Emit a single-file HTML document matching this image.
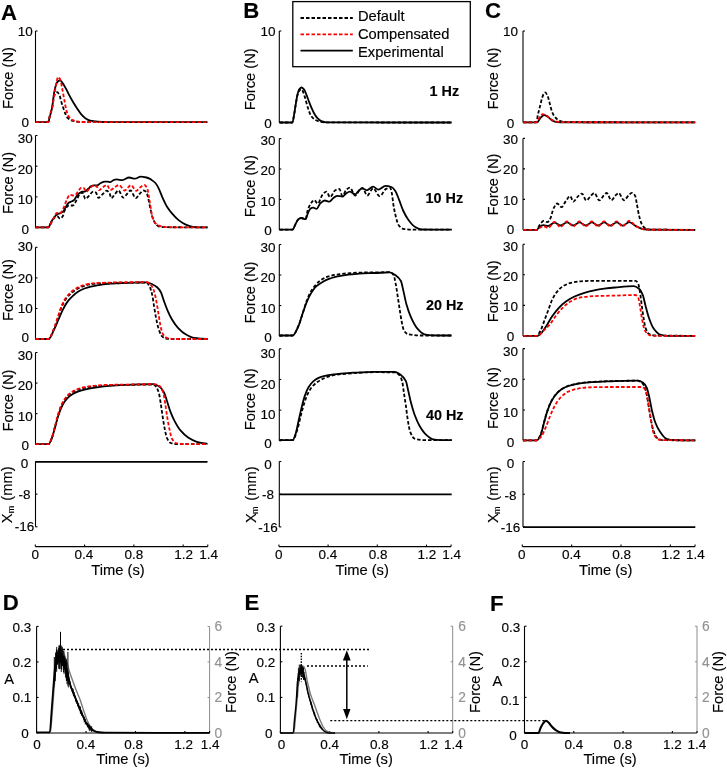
<!DOCTYPE html>
<html><head><meta charset="utf-8"><title>Figure</title><style>
html,body{margin:0;padding:0;background:#fff;}
svg{display:block;will-change:transform;}
text{font-family:"Liberation Sans",sans-serif;fill:#000;stroke:#000;stroke-width:0.15px;}
.gt{stroke:#939393;}
.tk{font-size:13.5px;}
.lb{font-size:14.7px;}
.sb{font-size:9px;}
.pl{font-size:22.2px;font-weight:bold;}
.hz{font-size:14.4px;font-weight:bold;}
.gt{fill:#939393;}
.rt{font-size:13.8px;}
.ax{stroke:#000;stroke-width:1.1;fill:none;}
.gax{stroke:#8c8c8c;stroke-width:1;fill:none;}
.s{stroke:#000;stroke-width:1.8;fill:none;}
.d{stroke:#000;stroke-width:1.8;fill:none;stroke-dasharray:3.5 2;}
.r{stroke:#f00;stroke-width:1.8;fill:none;stroke-dasharray:3.5 2;}
.gl{stroke:#7a7a7a;stroke-width:1.4;fill:none;}
.ml{stroke:#000;stroke-width:1.8;fill:none;}
.mlE{stroke:#000;stroke-width:1.5;fill:none;}
.ml2{stroke:#000;stroke-width:2;fill:none;}
.eb{stroke:#000;stroke-width:0.9;fill:none;}
.eb2{stroke:#000;stroke-width:1;fill:none;}
.eb3{stroke:#000;stroke-width:1.3;fill:none;stroke-dasharray:1.6 1.2;}
.dot{stroke:#000;stroke-width:1.3;fill:none;stroke-dasharray:2 2;}
.arr{stroke:#000;stroke-width:1.5;fill:none;}
</style></head>
<body><svg width="727" height="768" viewBox="0 0 727 768">
<path class="ax" d="M35.5 31L35.5 122.3"/>
<path class="ax" d="M35.5 31L37.5 31"/>
<path class="ax" d="M35.5 122.3L37.5 122.3"/>
<text x="25.2" y="36.45" class="tk" text-anchor="middle">10</text>
<text x="25.2" y="127.05" class="tk" text-anchor="middle">0</text>
<text transform="translate(12.7 78) rotate(-90)" class="lb" text-anchor="middle">Force (N)</text>
<path class="ax" d="M35.5 135.5L35.5 227.6"/>
<path class="ax" d="M35.5 135.5L37.5 135.5"/>
<path class="ax" d="M35.5 166.2L37.5 166.2"/>
<path class="ax" d="M35.5 196.9L37.5 196.9"/>
<path class="ax" d="M35.5 227.6L37.5 227.6"/>
<text x="25.2" y="143.05" class="tk" text-anchor="middle">30</text>
<text x="25.2" y="173.85" class="tk" text-anchor="middle">20</text>
<text x="25.2" y="204.05" class="tk" text-anchor="middle">10</text>
<text x="25.2" y="234.15" class="tk" text-anchor="middle">0</text>
<text transform="translate(12.7 182.9) rotate(-90)" class="lb" text-anchor="middle">Force (N)</text>
<path class="ax" d="M35.5 247.3L35.5 339.1"/>
<path class="ax" d="M35.5 247.3L37.5 247.3"/>
<path class="ax" d="M35.5 277.9L37.5 277.9"/>
<path class="ax" d="M35.5 308.5L37.5 308.5"/>
<path class="ax" d="M35.5 339.1L37.5 339.1"/>
<text x="25.2" y="251.45" class="tk" text-anchor="middle">30</text>
<text x="25.2" y="282.75" class="tk" text-anchor="middle">20</text>
<text x="25.2" y="313.15" class="tk" text-anchor="middle">10</text>
<text x="25.2" y="342.35" class="tk" text-anchor="middle">0</text>
<text transform="translate(12.7 290) rotate(-90)" class="lb" text-anchor="middle">Force (N)</text>
<path class="ax" d="M35.5 352.5L35.5 444.2"/>
<path class="ax" d="M35.5 352.5L37.5 352.5"/>
<path class="ax" d="M35.5 383.07L37.5 383.07"/>
<path class="ax" d="M35.5 413.63L37.5 413.63"/>
<path class="ax" d="M35.5 444.2L37.5 444.2"/>
<text x="25.2" y="359.75" class="tk" text-anchor="middle">30</text>
<text x="25.2" y="390.25" class="tk" text-anchor="middle">20</text>
<text x="25.2" y="420.75" class="tk" text-anchor="middle">10</text>
<text x="25.2" y="450.35" class="tk" text-anchor="middle">0</text>
<text transform="translate(12.7 400.5) rotate(-90)" class="lb" text-anchor="middle">Force (N)</text>
<path class="ax" d="M35.5 461.5L35.5 526.8"/>
<path class="ax" d="M35.5 461.5L37.5 461.5"/>
<path class="ax" d="M35.5 494.15L37.5 494.15"/>
<path class="ax" d="M35.5 526.8L37.5 526.8"/>
<text x="24.5" y="468.15" class="tk" text-anchor="middle">0</text>
<text x="24.5" y="498.85" class="tk" text-anchor="middle">-8</text>
<text x="24.5" y="531.35" class="tk" text-anchor="middle">-16</text>
<text transform="translate(11.8 518.3) rotate(-90)" class="lb" text-anchor="middle">X</text>
<text transform="translate(13.5 509.4) rotate(-90)" class="sb" text-anchor="middle">m</text>
<text transform="translate(11.8 483.6) rotate(-90)" class="lb" text-anchor="middle">(mm)</text>
<path class="ax" d="M35.3 546.6L207.78 546.6"/>
<path class="ax" d="M35.3 546.6L35.3 544.6"/>
<path class="ax" d="M84.58 546.6L84.58 544.6"/>
<path class="ax" d="M133.86 546.6L133.86 544.6"/>
<path class="ax" d="M183.14 546.6L183.14 544.6"/>
<path class="ax" d="M207.78 546.6L207.78 544.6"/>
<text x="35.3" y="559.25" class="tk" text-anchor="middle">0</text>
<text x="84" y="559.25" class="tk" text-anchor="middle">0.4</text>
<text x="134" y="559.25" class="tk" text-anchor="middle">0.8</text>
<text x="183.6" y="559.25" class="tk" text-anchor="middle">1.2</text>
<text x="208.6" y="559.25" class="tk" text-anchor="middle">1.4</text>
<text x="118" y="574.7" class="lb" text-anchor="middle">Time (s)</text>
<path class="ax" d="M279.3 31L279.3 122.5"/>
<path class="ax" d="M279.3 31L281.3 31"/>
<path class="ax" d="M279.3 122.5L281.3 122.5"/>
<text x="267.9" y="36.45" class="tk" text-anchor="middle">10</text>
<text x="267.9" y="128.05" class="tk" text-anchor="middle">0</text>
<text transform="translate(255.4 79.3) rotate(-90)" class="lb" text-anchor="middle">Force (N)</text>
<path class="ax" d="M279.3 138.6L279.3 229.8"/>
<path class="ax" d="M279.3 138.6L281.3 138.6"/>
<path class="ax" d="M279.3 169L281.3 169"/>
<path class="ax" d="M279.3 199.4L281.3 199.4"/>
<path class="ax" d="M279.3 229.8L281.3 229.8"/>
<text x="267.9" y="144.95" class="tk" text-anchor="middle">30</text>
<text x="267.9" y="175.15" class="tk" text-anchor="middle">20</text>
<text x="267.9" y="205.65" class="tk" text-anchor="middle">10</text>
<text x="267.9" y="235.25" class="tk" text-anchor="middle">0</text>
<text transform="translate(255.4 186.2) rotate(-90)" class="lb" text-anchor="middle">Force (N)</text>
<path class="ax" d="M279.3 244.5L279.3 336.1"/>
<path class="ax" d="M279.3 244.5L281.3 244.5"/>
<path class="ax" d="M279.3 275.03L281.3 275.03"/>
<path class="ax" d="M279.3 305.57L281.3 305.57"/>
<path class="ax" d="M279.3 336.1L281.3 336.1"/>
<text x="267.9" y="251.85" class="tk" text-anchor="middle">30</text>
<text x="267.9" y="282.35" class="tk" text-anchor="middle">20</text>
<text x="267.9" y="312.85" class="tk" text-anchor="middle">10</text>
<text x="267.9" y="341.65" class="tk" text-anchor="middle">0</text>
<text transform="translate(255.4 292.5) rotate(-90)" class="lb" text-anchor="middle">Force (N)</text>
<path class="ax" d="M279.3 348.8L279.3 440.8"/>
<path class="ax" d="M279.3 348.8L281.3 348.8"/>
<path class="ax" d="M279.3 379.47L281.3 379.47"/>
<path class="ax" d="M279.3 410.13L281.3 410.13"/>
<path class="ax" d="M279.3 440.8L281.3 440.8"/>
<text x="267.9" y="358.25" class="tk" text-anchor="middle">30</text>
<text x="267.9" y="388.65" class="tk" text-anchor="middle">20</text>
<text x="267.9" y="419.15" class="tk" text-anchor="middle">10</text>
<text x="267.9" y="448.05" class="tk" text-anchor="middle">0</text>
<text transform="translate(255.4 399.3) rotate(-90)" class="lb" text-anchor="middle">Force (N)</text>
<path class="ax" d="M279.3 461.5L279.3 526.9"/>
<path class="ax" d="M279.3 461.5L281.3 461.5"/>
<path class="ax" d="M279.3 494.2L281.3 494.2"/>
<path class="ax" d="M279.3 526.9L281.3 526.9"/>
<text x="267.9" y="468.55" class="tk" text-anchor="middle">0</text>
<text x="267.9" y="499.45" class="tk" text-anchor="middle">-8</text>
<text x="267.9" y="531.55" class="tk" text-anchor="middle">-16</text>
<text transform="translate(256.1 518) rotate(-90)" class="lb" text-anchor="middle">X</text>
<text transform="translate(257.9 510.2) rotate(-90)" class="sb" text-anchor="middle">m</text>
<text transform="translate(256.1 483.6) rotate(-90)" class="lb" text-anchor="middle">(mm)</text>
<path class="ax" d="M278.9 546.6L451.1 546.6"/>
<path class="ax" d="M278.9 546.6L278.9 544.6"/>
<path class="ax" d="M328.1 546.6L328.1 544.6"/>
<path class="ax" d="M377.3 546.6L377.3 544.6"/>
<path class="ax" d="M426.5 546.6L426.5 544.6"/>
<path class="ax" d="M451.1 546.6L451.1 544.6"/>
<text x="278.7" y="559.25" class="tk" text-anchor="middle">0</text>
<text x="327.8" y="559.25" class="tk" text-anchor="middle">0.4</text>
<text x="378.2" y="559.25" class="tk" text-anchor="middle">0.8</text>
<text x="426.9" y="559.25" class="tk" text-anchor="middle">1.2</text>
<text x="451.6" y="559.25" class="tk" text-anchor="middle">1.4</text>
<text x="362.2" y="574.7" class="lb" text-anchor="middle">Time (s)</text>
<path class="ax" d="M523 31L523 122.4"/>
<path class="ax" d="M523 31L525 31"/>
<path class="ax" d="M523 122.4L525 122.4"/>
<text x="510.5" y="36.45" class="tk" text-anchor="middle">10</text>
<text x="510.5" y="127.65" class="tk" text-anchor="middle">0</text>
<text transform="translate(498.4 78.5) rotate(-90)" class="lb" text-anchor="middle">Force (N)</text>
<path class="ax" d="M523 138.4L523 229.8"/>
<path class="ax" d="M523 138.4L525 138.4"/>
<path class="ax" d="M523 168.87L525 168.87"/>
<path class="ax" d="M523 199.33L525 199.33"/>
<path class="ax" d="M523 229.8L525 229.8"/>
<text x="510.5" y="144.15" class="tk" text-anchor="middle">30</text>
<text x="510.5" y="174.35" class="tk" text-anchor="middle">20</text>
<text x="510.5" y="204.75" class="tk" text-anchor="middle">10</text>
<text x="510.5" y="233.65" class="tk" text-anchor="middle">0</text>
<text transform="translate(498.4 184.5) rotate(-90)" class="lb" text-anchor="middle">Force (N)</text>
<path class="ax" d="M523 244.2L523 336"/>
<path class="ax" d="M523 244.2L525 244.2"/>
<path class="ax" d="M523 274.8L525 274.8"/>
<path class="ax" d="M523 305.4L525 305.4"/>
<path class="ax" d="M523 336L525 336"/>
<text x="510.5" y="250.65" class="tk" text-anchor="middle">30</text>
<text x="510.5" y="280.65" class="tk" text-anchor="middle">20</text>
<text x="510.5" y="311.15" class="tk" text-anchor="middle">10</text>
<text x="510.5" y="340.85" class="tk" text-anchor="middle">0</text>
<text transform="translate(498.4 291.3) rotate(-90)" class="lb" text-anchor="middle">Force (N)</text>
<path class="ax" d="M523 348.6L523 440.6"/>
<path class="ax" d="M523 348.6L525 348.6"/>
<path class="ax" d="M523 379.27L525 379.27"/>
<path class="ax" d="M523 409.93L525 409.93"/>
<path class="ax" d="M523 440.6L525 440.6"/>
<text x="510.5" y="356.45" class="tk" text-anchor="middle">30</text>
<text x="510.5" y="386.95" class="tk" text-anchor="middle">20</text>
<text x="510.5" y="417.45" class="tk" text-anchor="middle">10</text>
<text x="510.5" y="446.75" class="tk" text-anchor="middle">0</text>
<text transform="translate(498.4 398) rotate(-90)" class="lb" text-anchor="middle">Force (N)</text>
<path class="ax" d="M523 461.5L523 527.1"/>
<path class="ax" d="M523 461.5L525 461.5"/>
<path class="ax" d="M523 494.3L525 494.3"/>
<path class="ax" d="M523 527.1L525 527.1"/>
<text x="510.5" y="468.35" class="tk" text-anchor="middle">0</text>
<text x="510.5" y="499.65" class="tk" text-anchor="middle">-8</text>
<text x="510.5" y="531.95" class="tk" text-anchor="middle">-16</text>
<text transform="translate(498.4 518) rotate(-90)" class="lb" text-anchor="middle">X</text>
<text transform="translate(500.1 510.2) rotate(-90)" class="sb" text-anchor="middle">m</text>
<text transform="translate(498.4 483.6) rotate(-90)" class="lb" text-anchor="middle">(mm)</text>
<path class="ax" d="M522.3 546.6L695.06 546.6"/>
<path class="ax" d="M522.3 546.6L522.3 544.6"/>
<path class="ax" d="M571.66 546.6L571.66 544.6"/>
<path class="ax" d="M621.02 546.6L621.02 544.6"/>
<path class="ax" d="M670.38 546.6L670.38 544.6"/>
<path class="ax" d="M695.06 546.6L695.06 544.6"/>
<text x="521.7" y="559.25" class="tk" text-anchor="middle">0</text>
<text x="571.3" y="559.25" class="tk" text-anchor="middle">0.4</text>
<text x="621.6" y="559.25" class="tk" text-anchor="middle">0.8</text>
<text x="670.8" y="559.25" class="tk" text-anchor="middle">1.2</text>
<text x="695.4" y="559.25" class="tk" text-anchor="middle">1.4</text>
<text x="605.7" y="574.7" class="lb" text-anchor="middle">Time (s)</text>
<text x="1" y="19.7" class="pl" text-anchor="start">A</text>
<text x="243.2" y="18.1" class="pl" text-anchor="start">B</text>
<text x="485" y="18.4" class="pl" text-anchor="start">C</text>
<text x="2.7" y="609.7" class="pl" text-anchor="start">D</text>
<text x="244.5" y="610.1" class="pl" text-anchor="start">E</text>
<text x="489.9" y="610.6" class="pl" text-anchor="start">F</text>
<text x="429.5" y="96" class="hz" text-anchor="start">1 Hz</text>
<text x="425.6" y="202.7" class="hz" text-anchor="start">10 Hz</text>
<text x="425.9" y="309.5" class="hz" text-anchor="start">20 Hz</text>
<text x="425.9" y="419.7" class="hz" text-anchor="start">40 Hz</text>
<rect x="292.8" y="1.6" width="177.5" height="65.1" fill="#fff" stroke="#000" stroke-width="1.3"/>
<path class="d" d="M300.5 18L352.8 18"/>
<path class="r" d="M300.5 34.3L352.8 34.3"/>
<path class="s" d="M300.5 50.7L352.8 50.7"/>
<text x="358" y="20.7" class="lb" text-anchor="start">Default</text>
<text x="358" y="38.8" class="lb" text-anchor="start">Compensated</text>
<text x="358" y="57" class="lb" text-anchor="start">Experimental</text>
<path class="d" d="M35.3 122.2C39.57 122.2 43.83 122.2 48.1 122.2C48.57 122.2 49.03 118.73 49.5 117C50.43 113.55 51.37 111.11 52.3 106.7C52.83 104.18 53.37 98.63 53.9 96.8C54.43 94.97 54.97 93.42 55.5 93C56.07 92.55 56.63 92.2 57.2 92.2C58.03 92.2 58.87 94.09 59.7 95.9C60.23 97.06 60.77 99.9 61.3 101.7C62 104.06 62.7 106.24 63.4 108.3C64.1 110.36 64.8 112.61 65.5 114.1C66.3 115.8 67.1 117.44 67.9 118.2C69 119.25 70.1 119.88 71.2 120.3C72.6 120.83 74 121.18 75.4 121.4C77.6 121.74 79.8 122.1 82 122.1C123.83 122.19 165.67 122.2 207.5 122.2"/>
<path class="s" d="M35.3 122.2C39.63 122.2 43.97 122.2 48.3 122.2C48.77 122.2 49.23 118.78 49.7 117C50.57 113.69 51.43 111.41 52.3 106.7C52.83 103.8 53.37 97.14 53.9 94C54.43 90.86 54.97 88.26 55.5 86.5C56.07 84.63 56.63 82.82 57.2 82.2C58.17 81.14 59.13 80.3 60.1 80.3C61.07 80.3 62.03 82.28 63 83.6C64.1 85.1 65.2 87.26 66.3 89.3C67.4 91.34 68.5 93.84 69.6 95.9C70.7 97.96 71.8 99.85 72.9 101.7C74.27 104 75.63 106.24 77 108.3C78.37 110.36 79.73 112.52 81.1 114.1C82.5 115.72 83.9 117.25 85.3 118.2C86.93 119.3 88.57 120.34 90.2 120.7C92.67 121.25 95.13 121.51 97.6 121.7C100.07 121.89 102.53 122.09 105 122.1C139.17 122.19 173.33 122.2 207.5 122.2"/>
<path class="r" d="M35.3 122.2C39.57 122.2 43.83 122.2 48.1 122.2C48.57 122.2 49.03 118.73 49.5 117C50.43 113.55 51.37 110.95 52.3 106.7C53.1 103.06 53.9 97.28 54.7 92.6C55.27 89.29 55.83 85.03 56.4 82.7C57 80.23 57.6 77 58.2 77C58.97 77 59.73 78.56 60.5 80.3C61.07 81.59 61.63 85.63 62.2 88.5C62.87 91.88 63.53 95.7 64.2 99.2C64.9 102.87 65.6 107.53 66.3 110C67.13 112.93 67.97 115.37 68.8 116.6C69.9 118.23 71 119.34 72.1 119.9C73.73 120.73 75.37 121.29 77 121.5C79.67 121.84 82.33 122.09 85 122.1C125.83 122.19 166.67 122.2 207.5 122.2"/>
<path class="d" d="M35.3 227.3C39.63 227.3 43.97 227.3 48.3 227.3C49.43 227.3 50.57 223.15 51.7 221.5C52.83 219.85 53.97 217.72 55.1 217.2C55.9 216.83 56.7 216.5 57.5 216.5C58.3 216.5 59.1 218.6 59.9 218.6C60.87 218.6 61.83 217.59 62.8 216.2C63.27 215.53 63.73 212.49 64.2 211.4C64.97 209.61 65.73 208.38 66.5 207.5C67.27 206.62 68.03 205.5 68.8 205.5C70.17 205.5 71.53 205.5 72.9 205.5C74.17 205.5 75.43 201.97 76.7 199.8C77.67 198.15 78.63 194.89 79.6 194.1C80.57 193.31 81.53 192.6 82.5 192.6C83.47 192.6 84.43 198.9 85.4 198.9C86.53 198.9 87.67 197.04 88.8 196C90.23 194.68 91.67 191.7 93.1 191.7C94.07 191.7 95.03 192.06 96 192.6C96.8 193.05 97.6 197.9 98.4 197.9C99.83 197.9 101.27 195.36 102.7 194.1C104 192.96 105.3 190.7 106.6 190.7C107.57 190.7 108.53 191.81 109.5 193.1C110.1 193.9 110.7 198.2 111.3 198.2C112.53 198.2 113.77 195.31 115 194C116.17 192.76 117.33 190.5 118.5 190.5C120.1 190.5 121.7 197.7 123.3 197.7C124.53 197.7 125.77 195.23 127 194C128.17 192.83 129.33 190.5 130.5 190.5C132.27 190.5 134.03 198.2 135.8 198.2C137.03 198.2 138.27 195.22 139.5 194C140.83 192.68 142.17 190.5 143.5 190.5C144.47 190.5 145.43 191.08 146.4 192C147.03 192.6 147.67 196.13 148.3 198.7C148.97 201.41 149.63 205.37 150.3 208.3C151.1 211.82 151.9 215.82 152.7 218C153.63 220.55 154.57 222.56 155.5 223.7C156.5 224.92 157.5 226.04 158.5 226.3C160.67 226.87 162.83 227.19 165 227.2C179.17 227.29 193.33 227.3 207.5 227.3"/>
<path class="s" d="M35.3 227.3C39.63 227.3 43.97 227.3 48.3 227.3C49.43 227.3 50.57 222.78 51.7 221C53 218.95 54.3 216.86 55.6 215.7C56.53 214.87 57.47 214.23 58.4 213.8C59.37 213.36 60.33 213.27 61.3 212.8C62.1 212.41 62.9 211.81 63.7 210.9C64.37 210.15 65.03 208.23 65.7 207.1C66.67 205.46 67.63 203.35 68.6 202.7C69.7 201.96 70.8 201.82 71.9 201.3C72.53 201 73.17 200.78 73.8 200.3C74.77 199.57 75.73 197.15 76.7 196C77.67 194.85 78.63 193.73 79.6 193.1C80.57 192.47 81.53 191.7 82.5 191.7C83.3 191.7 84.1 191.7 84.9 191.7C86.03 191.7 87.17 189.79 88.3 188.8C89.27 187.95 90.23 186.61 91.2 186.2C92.17 185.79 93.13 185.4 94.1 185.4C95.07 185.4 96.03 185.4 97 185.4C98.27 185.4 99.53 183.58 100.8 183C102.1 182.4 103.4 181.6 104.7 181.6C105.63 181.6 106.57 181.65 107.5 181.7C108.47 181.75 109.43 182.1 110.4 182.1C111.6 182.1 112.8 180.09 114 179.8C114.87 179.59 115.73 179.4 116.6 179.4C118.5 179.4 120.4 180.2 122.3 180.2C124.57 180.2 126.83 177.5 129.1 177.5C131 177.5 132.9 178.7 134.8 178.7C136.73 178.7 138.67 176.7 140.6 176.7C142.53 176.7 144.47 177.09 146.4 177.5C147.6 177.75 148.8 178.29 150 178.9C150.73 179.27 151.47 179.86 152.2 180.4C153.27 181.19 154.33 181.84 155.4 183C156.57 184.27 157.73 186.49 158.9 188.8C160.1 191.18 161.3 195.04 162.5 197.7C164 201.03 165.5 204.31 167 206.7C168.8 209.57 170.6 211.73 172.4 213.8C174.47 216.18 176.53 218.49 178.6 220.1C181 221.97 183.4 223.61 185.8 224.6C188.17 225.58 190.53 226.49 192.9 226.8C195.3 227.12 197.7 227.4 200.1 227.4C202.57 227.4 205.03 227.4 207.5 227.4"/>
<path class="r" d="M35.3 227.3C39.63 227.3 43.97 227.3 48.3 227.3C49.43 227.3 50.57 224 51.7 222C52.5 220.59 53.3 218.59 54.1 217.2C55.07 215.52 56.03 212.8 57 212.8C57.97 212.8 58.93 213.3 59.9 213.3C60.53 213.3 61.17 212.23 61.8 211.4C62.6 210.35 63.4 208.42 64.2 206.6C65.17 204.4 66.13 200.68 67.1 198.9C68.07 197.12 69.03 194.8 70 194.8C70.97 194.8 71.93 195.5 72.9 195.5C73.7 195.5 74.5 195.28 75.3 195C76.27 194.66 77.23 192.4 78.2 191.2C79.17 190 80.13 187.8 81.1 187.8C81.9 187.8 82.7 187.8 83.5 187.8C84.47 187.8 85.43 191.7 86.4 191.7C87.5 191.7 88.6 189.23 89.7 188.3C91.17 187.06 92.63 185.2 94.1 185.2C95.07 185.2 96.03 185.95 97 186.8C97.63 187.35 98.27 190.2 98.9 190.2C100.17 190.2 101.43 188.11 102.7 187.3C104.1 186.4 105.5 185 106.9 185C108.03 185 109.17 190 110.3 190C111.7 190 113.1 188.3 114.5 187.5C116 186.64 117.5 185 119 185C120.9 185 122.8 190.5 124.7 190.5C125.8 190.5 126.9 188.41 128 187.5C129 186.67 130 185.2 131 185.2C132.77 185.2 134.53 190.8 136.3 190.8C137.53 190.8 138.77 188.35 140 187.5C141.5 186.47 143 185 144.5 185C145.47 185 146.43 186.85 147.4 189.1C147.87 190.19 148.33 193.25 148.8 195.8C149.3 198.53 149.8 202.41 150.3 205.4C150.93 209.19 151.57 213.85 152.2 216C153.17 219.28 154.13 221.66 155.1 222.8C156.37 224.29 157.63 225.27 158.9 225.7C160.83 226.36 162.77 226.76 164.7 226.9C168.13 227.14 171.57 227.3 175 227.3C185.83 227.3 196.67 227.3 207.5 227.3"/>
<path class="d" d="M35.3 339C39.73 339 44.17 339 48.6 339C50.27 339 51.93 333.52 53.6 329.8C55.03 326.6 56.47 321.89 57.9 317.8C59.13 314.28 60.37 309.82 61.6 307C63.03 303.72 64.47 300.99 65.9 299C67.57 296.68 69.23 294.97 70.9 293.5C72.97 291.68 75.03 290.13 77.1 289C79.57 287.65 82.03 286.56 84.5 285.8C86.57 285.16 88.63 284.65 90.7 284.3C92.77 283.95 94.83 283.63 96.9 283.5C101.03 283.23 105.17 283.12 109.3 283C113.43 282.88 117.57 282.73 121.7 282.7C130 282.64 138.3 282.6 146.6 282.6C147.63 282.6 148.67 284.74 149.7 286.7C150.53 288.28 151.37 291.12 152.2 294.7C152.8 297.28 153.4 302.28 154 305.9C154.63 309.72 155.27 313.78 155.9 317C156.73 321.23 157.57 325.46 158.4 328.1C159.43 331.37 160.47 334.42 161.5 335.6C162.93 337.24 164.37 338.56 165.8 338.7C167.87 338.9 169.93 339 172 339C183.83 339 195.67 339 207.5 339"/>
<path class="s" d="M35.3 339C39.73 339 44.17 339 48.6 339C50.27 339 51.93 333.82 53.6 330.6C55.23 327.45 56.87 323.19 58.5 319.5C59.97 316.19 61.43 312.48 62.9 309.6C64.33 306.78 65.77 304.07 67.2 302.1C68.83 299.86 70.47 298.14 72.1 296.6C74.17 294.65 76.23 292.88 78.3 291.6C80.37 290.32 82.43 289.26 84.5 288.5C86.57 287.74 88.63 287.2 90.7 286.7C92.77 286.2 94.83 285.78 96.9 285.4C98.97 285.02 101.03 284.65 103.1 284.4C105.17 284.15 107.23 283.98 109.3 283.8C111.37 283.62 113.43 283.43 115.5 283.3C117.57 283.18 119.63 283.08 121.7 283C126.13 282.83 130.57 282.72 135 282.6C138.87 282.49 142.73 282.3 146.6 282.3C148.47 282.3 150.33 283.37 152.2 284.2C153.83 284.93 155.47 285.89 157.1 287.3C158.37 288.39 159.63 289.9 160.9 292.2C161.9 294.01 162.9 298.15 163.9 300.9C165.17 304.38 166.43 307.91 167.7 310.8C169.13 314.07 170.57 317.11 172 319.5C174.07 322.94 176.13 325.93 178.2 328.1C180.67 330.7 183.13 332.9 185.6 334.3C188.5 335.95 191.4 337.59 194.3 338C198.43 338.58 202.57 339 206.7 339C206.97 339 207.23 339 207.5 339"/>
<path class="r" d="M35.3 339C39.73 339 44.17 339 48.6 339C50.27 339 51.93 333.26 53.6 329.4C55.03 326.08 56.47 321.22 57.9 317C59.13 313.37 60.37 308.77 61.6 305.9C63.03 302.56 64.47 299.83 65.9 297.8C67.57 295.44 69.23 293.64 70.9 292.2C72.97 290.41 75.03 288.99 77.1 287.9C79.57 286.6 82.03 285.45 84.5 284.8C86.57 284.26 88.63 283.87 90.7 283.6C92.77 283.33 94.83 283.11 96.9 283C101.03 282.79 105.17 282.71 109.3 282.6C113.43 282.49 117.57 282.33 121.7 282.3C130 282.24 138.3 282.2 146.6 282.2C148.03 282.2 149.47 283.43 150.9 284.8C151.93 285.79 152.97 288.11 154 291C154.83 293.33 155.67 297.85 156.5 302.1C157.13 305.33 157.77 309.48 158.4 313.3C159 316.92 159.6 321.58 160.2 324.4C161.03 328.32 161.87 332.32 162.7 333.7C164.13 336.08 165.57 337.68 167 338C169.9 338.66 172.8 339 175.7 339C186.3 339 196.9 339 207.5 339"/>
<path class="d" d="M35.3 444.2C39.73 444.2 44.17 444.2 48.6 444.2C49.63 444.2 50.67 440.84 51.7 438.3C52.73 435.76 53.77 431.24 54.8 427.5C55.83 423.76 56.87 419.25 57.9 415.8C58.93 412.35 59.97 408.87 61 406.5C62.23 403.67 63.47 401.42 64.7 399.7C66.37 397.38 68.03 395.5 69.7 394.2C71.77 392.58 73.83 391.36 75.9 390.5C78.77 389.3 81.63 388.38 84.5 387.8C88.63 386.96 92.77 386.34 96.9 386C101.03 385.66 105.17 385.45 109.3 385.3C114.53 385.11 119.77 384.98 125 384.9C134.47 384.75 143.93 384.6 153.4 384.6C154.43 384.6 155.47 385.94 156.5 387.3C157.33 388.39 158.17 390.54 159 393.5C159.63 395.75 160.27 400.69 160.9 404.7C161.5 408.5 162.1 413.2 162.7 417C163.33 421.01 163.97 425.1 164.6 428.2C165.4 432.11 166.2 436.46 167 438.1C168.27 440.69 169.53 442.5 170.8 443C172.43 443.64 174.07 444.09 175.7 444.1C186.3 444.19 196.9 444.2 207.5 444.2"/>
<path class="s" d="M35.3 444.2C39.73 444.2 44.17 444.2 48.6 444.2C49.63 444.2 50.67 441.11 51.7 438.7C52.73 436.29 53.77 431.81 54.8 428.2C55.83 424.59 56.87 420.24 57.9 417C58.93 413.76 59.97 410.7 61 408.4C62.23 405.66 63.47 403.34 64.7 401.6C66.37 399.25 68.03 397.31 69.7 396C71.77 394.37 73.83 393.16 75.9 392.3C78.77 391.1 81.63 390.28 84.5 389.6C88.63 388.62 92.77 387.91 96.9 387.3C101.03 386.69 105.17 386.13 109.3 385.8C114.53 385.39 119.77 385.12 125 384.9C130 384.69 135 384.5 140 384.4C144.47 384.31 148.93 384.2 153.4 384.2C155.47 384.2 157.53 385.39 159.6 386.7C161.03 387.61 162.47 389.7 163.9 392.3C164.93 394.18 165.97 397.91 167 401C168.03 404.09 169.07 408.14 170.1 410.9C171.57 414.81 173.03 418.03 174.5 420.8C176.57 424.7 178.63 428.27 180.7 430.7C183.17 433.6 185.63 435.9 188.1 437.5C191 439.38 193.9 440.99 196.8 441.8C200.1 442.72 203.4 443.23 206.7 443.7C206.97 443.74 207.23 443.77 207.5 443.8"/>
<path class="r" d="M35.3 444.2C39.73 444.2 44.17 444.2 48.6 444.2C49.63 444.2 50.67 440.72 51.7 438.1C52.73 435.48 53.77 430.81 54.8 427C55.83 423.19 56.87 418.67 57.9 415.2C58.93 411.73 59.97 408.27 61 405.9C62.23 403.07 63.47 400.84 64.7 399.1C66.37 396.75 68.03 394.81 69.7 393.5C71.77 391.87 73.83 390.66 75.9 389.8C78.77 388.6 81.63 387.64 84.5 387.1C88.63 386.32 92.77 385.79 96.9 385.5C101.03 385.21 105.17 385.02 109.3 384.9C114.53 384.75 119.77 384.69 125 384.6C134.47 384.44 143.93 384.2 153.4 384.2C155.47 384.2 157.53 384.94 159.6 386.1C160.83 386.79 162.07 389.31 163.3 392.9C163.93 394.75 164.57 399.51 165.2 403.4C165.8 407.08 166.4 412.13 167 415.8C167.83 420.9 168.67 425.72 169.5 429.4C170.33 433.08 171.17 437.17 172 438.7C173.23 440.96 174.47 442.6 175.7 443C177.77 443.68 179.83 444.08 181.9 444.1C190.43 444.18 198.97 444.2 207.5 444.2"/>
<path class="d" d="M279.5 122.5C283.8 122.5 288.1 122.5 292.4 122.5C292.97 122.5 293.53 117.61 294.1 114.6C294.63 111.77 295.17 107.78 295.7 104.7C296.27 101.43 296.83 97.46 297.4 95.5C298.07 93.2 298.73 91.08 299.4 90.5C300.1 89.89 300.8 89.4 301.5 89.4C302.47 89.4 303.43 92.98 304.4 95.6C305.1 97.5 305.8 100.7 306.5 103.1C307.17 105.39 307.83 107.88 308.5 109.7C309.47 112.33 310.43 115.02 311.4 116.3C312.77 118.11 314.13 119.27 315.5 120C316.9 120.75 318.3 121.32 319.7 121.6C321.8 122.01 323.9 122.4 326 122.4C367.9 122.49 409.8 122.5 451.7 122.5"/>
<path class="s" d="M279.5 122.5C283.8 122.5 288.1 122.5 292.4 122.5C292.97 122.5 293.53 117.61 294.1 114.6C294.63 111.77 295.17 107.9 295.7 104.7C296.27 101.3 296.83 97.01 297.4 94.8C298.07 92.2 298.73 89.77 299.4 89C300.1 88.19 300.8 87.5 301.5 87.5C302.33 87.5 303.17 88.46 304 89.4C304.83 90.34 305.67 92.78 306.5 94.8C307.3 96.74 308.1 99.31 308.9 101.4C309.73 103.57 310.57 105.68 311.4 107.6C312.23 109.52 313.07 111.52 313.9 113C315 114.95 316.1 116.74 317.2 117.9C318.57 119.34 319.93 120.69 321.3 121.2C322.97 121.83 324.63 122.4 326.3 122.4C368.1 122.5 409.9 122.5 451.7 122.5"/>
<path class="d" d="M279.5 229.6C283.87 229.6 288.23 229.6 292.6 229.6C293.57 229.6 294.53 225.83 295.5 224.1C296.47 222.37 297.43 219.83 298.4 219.2C299.4 218.55 300.4 218 301.4 218C302.77 218 304.13 219.2 305.5 219.2C306.27 219.2 307.03 212.21 307.8 210C308.57 207.79 309.33 206 310.1 204.8C311.47 202.66 312.83 200.1 314.2 200.1C315.37 200.1 316.53 203.6 317.7 203.6C319.27 203.6 320.83 196.64 322.4 194.9C323.77 193.38 325.13 191.6 326.5 191.6C327.67 191.6 328.83 197.2 330 197.2C331.77 197.2 333.53 191.02 335.3 190.2C336.67 189.56 338.03 189 339.4 189C340.37 189 341.33 195.8 342.3 195.8C343.7 195.8 345.1 190.62 346.5 189.5C347.63 188.59 348.77 187.6 349.9 187.6C351.67 187.6 353.43 195.5 355.2 195.5C356.8 195.5 358.4 190.75 360 189.5C360.83 188.85 361.67 188 362.5 188C364.07 188 365.63 195.5 367.2 195.5C369.17 195.5 371.13 188.3 373.1 188.3C375.27 188.3 377.43 196.1 379.6 196.1C381.77 196.1 383.93 189.94 386.1 188.9C387.43 188.26 388.77 187.6 390.1 187.6C390.73 187.6 391.37 191.12 392 194.2C392.43 196.31 392.87 201.3 393.3 204C393.97 208.16 394.63 211.67 395.3 214.4C396.37 218.77 397.43 223.41 398.5 224.9C400.03 227.04 401.57 228.51 403.1 228.8C406.17 229.39 409.23 229.7 412.3 229.7C425.43 229.7 438.57 229.7 451.7 229.7"/>
<path class="s" d="M279.5 229.6C283.87 229.6 288.23 229.6 292.6 229.6C293.57 229.6 294.53 225.83 295.5 224.1C296.47 222.37 297.43 219.83 298.4 219.2C299.4 218.55 300.4 218 301.4 218C302.77 218 304.13 219.2 305.5 219.2C306.27 219.2 307.03 215.3 307.8 213.6C308.57 211.9 309.33 209.43 310.1 208.9C311.1 208.21 312.1 207.7 313.1 207.7C314.27 207.7 315.43 208.9 316.6 208.9C317.77 208.9 318.93 204.69 320.1 203.6C321.67 202.13 323.23 200.5 324.8 200.5C326.33 200.5 327.87 201.7 329.4 201.7C330.6 201.7 331.8 199.32 333 198.4C334.33 197.38 335.67 195.8 337 195.8C338.77 195.8 340.53 196.6 342.3 196.6C343.47 196.6 344.63 194.44 345.8 193.7C347.17 192.83 348.53 191.6 349.9 191.6C351.67 191.6 353.43 194.3 355.2 194.3C356.37 194.3 357.53 191.75 358.7 190.8C359.87 189.85 361.03 188.4 362.2 188.4C363.67 188.4 365.13 190.3 366.6 190.3C368.77 190.3 370.93 186.7 373.1 186.7C374.83 186.7 376.57 189.6 378.3 189.6C380.7 189.6 383.1 185.9 385.5 185.9C387.47 185.9 389.43 186.35 391.4 187C392.7 187.43 394 189.07 395.3 190.9C396.6 192.73 397.9 196.85 399.2 200.1C400.5 203.35 401.8 207.71 403.1 210.5C404.83 214.22 406.57 217.36 408.3 219.7C410.5 222.67 412.7 225.48 414.9 226.8C417.07 228.1 419.23 229.46 421.4 229.5C431.5 229.67 441.6 229.7 451.7 229.7"/>
<path class="d" d="M279.5 335.5C283.9 335.5 288.3 335.5 292.7 335.5C294.67 335.5 296.63 329.93 298.6 325.6C299.83 322.89 301.07 318.25 302.3 314.5C303.6 310.55 304.9 306.1 306.2 302.5C307.4 299.17 308.6 295.7 309.8 293.4C311.43 290.27 313.07 287.97 314.7 286C316.37 283.99 318.03 282.26 319.7 281C321.77 279.44 323.83 278.1 325.9 277.3C328.77 276.19 331.63 275.4 334.5 274.9C338.63 274.19 342.77 273.75 346.9 273.4C351.03 273.05 355.17 272.69 359.3 272.6C364.53 272.49 369.77 272.47 375 272.4C379.93 272.34 384.87 272.2 389.8 272.2C391.03 272.2 392.27 273.29 393.5 274.9C394.3 275.94 395.1 280.73 395.9 284.8C396.53 288.02 397.17 292.98 397.8 297.1C398.43 301.22 399.07 305.47 399.7 309.5C400.3 313.32 400.9 317.76 401.5 320.7C402.33 324.78 403.17 329.35 404 330.6C405.43 332.75 406.87 334.01 408.3 334.3C412.43 335.13 416.57 335.5 420.7 335.5C431.03 335.5 441.37 335.5 451.7 335.5"/>
<path class="s" d="M279.5 335.5C283.9 335.5 288.3 335.5 292.7 335.5C294.67 335.5 296.63 329.93 298.6 325.6C299.83 322.89 301.07 318.09 302.3 314.5C303.77 310.23 305.23 305.55 306.7 302.1C308.13 298.73 309.57 295.77 311 293.4C312.63 290.7 314.27 288.13 315.9 286.6C317.97 284.66 320.03 283.5 322.1 282.3C324.17 281.1 326.23 280.03 328.3 279.2C330.37 278.37 332.43 277.64 334.5 277.1C336.57 276.56 338.63 276.15 340.7 275.8C342.77 275.45 344.83 275.16 346.9 274.9C351.03 274.39 355.17 273.84 359.3 273.6C364.53 273.3 369.77 273.21 375 273C379.93 272.81 384.87 272.4 389.8 272.4C391.83 272.4 393.87 274.07 395.9 275.5C397.57 276.67 399.23 277.94 400.9 281C401.73 282.53 402.57 287.43 403.4 290.9C404.43 295.21 405.47 300.97 406.5 304.6C407.93 309.64 409.37 313.68 410.8 316.9C412.87 321.54 414.93 325.71 417 328.1C419.47 330.95 421.93 333.69 424.4 334.3C426.93 334.93 429.47 335.37 432 335.4C438.57 335.47 445.13 335.5 451.7 335.5"/>
<path class="d" d="M279.5 440.2C283.9 440.2 288.3 440.2 292.7 440.2C294.27 440.2 295.83 434.03 297.4 429.4C298.63 425.75 299.87 419.17 301.1 414.5C302.13 410.59 303.17 406.58 304.2 403.4C305.43 399.61 306.67 395.97 307.9 393.5C309.33 390.63 310.77 388.36 312.2 386.7C314.07 384.54 315.93 382.97 317.8 381.7C320.07 380.16 322.33 378.95 324.6 378C327.07 376.97 329.53 375.98 332 375.5C336.33 374.65 340.67 374.15 345 373.8C355 373 365 372.2 375 372.2C381.57 372.2 388.13 372.24 394.7 372.4C396.37 372.44 398.03 373.75 399.7 375.5C400.5 376.34 401.3 378.3 402.1 381.1C402.73 383.32 403.37 389.37 404 393.5C404.63 397.63 405.27 401.46 405.9 405.9C406.5 410.1 407.1 415.88 407.7 419.5C408.53 424.52 409.37 429.69 410.2 431.8C411.63 435.43 413.07 438.24 414.5 438.7C417.4 439.63 420.3 440.08 423.2 440.1C432.7 440.18 442.2 440.2 451.7 440.2"/>
<path class="s" d="M279.5 440.2C283.9 440.2 288.3 440.2 292.7 440.2C293.63 440.2 294.57 436.94 295.5 434.3C296.53 431.38 297.57 425.23 298.6 420.7C299.63 416.17 300.67 411.19 301.7 407.1C302.73 403.01 303.77 398.84 304.8 395.9C306.03 392.39 307.27 389.33 308.5 387.3C310.17 384.56 311.83 382.46 313.5 381.1C315.57 379.41 317.63 378.16 319.7 377.4C322.57 376.35 325.43 375.68 328.3 375.2C332.43 374.51 336.57 374.1 340.7 373.7C344.83 373.3 348.97 372.93 353.1 372.7C360.4 372.29 367.7 371.8 375 371.8C381.57 371.8 388.13 371.82 394.7 371.9C396.77 371.93 398.83 373.44 400.9 374.9C402.57 376.08 404.23 377.71 405.9 381.1C406.7 382.73 407.5 387.58 408.3 391C409.13 394.56 409.97 398.89 410.8 402.1C412.03 406.85 413.27 411.16 414.5 414.5C416.17 419.02 417.83 422.82 419.5 425.7C421.57 429.27 423.63 432.4 425.7 434.3C428.17 436.56 430.63 438.82 433.1 439.3C435.4 439.75 437.7 440.06 440 440.1C443.9 440.17 447.8 440.2 451.7 440.2"/>
<path class="d" d="M523.1 122.3C527.5 122.3 531.9 122.29 536.3 122.2C536.83 122.19 537.37 117 537.9 114.7C538.6 111.69 539.3 109.22 540 106.4C540.67 103.72 541.33 100.24 542 98.2C542.57 96.46 543.13 94.8 543.7 94C544.23 93.24 544.77 92.4 545.3 92.4C546.13 92.4 546.97 94.61 547.8 96.5C548.5 98.08 549.2 101.36 549.9 103.9C550.57 106.32 551.23 109.66 551.9 111.4C552.73 113.57 553.57 115.18 554.4 116.3C555.5 117.78 556.6 118.93 557.7 119.6C559.37 120.61 561.03 121.49 562.7 121.7C565.13 122 567.57 122.19 570 122.2C611.77 122.29 653.53 122.3 695.3 122.3"/>
<path class="s" d="M523.1 122.3C527.77 122.3 532.43 122.3 537.1 122.3C538.2 122.3 539.3 119.08 540.4 118C541.63 116.79 542.87 115.1 544.1 115.1C545.33 115.1 546.57 115.98 547.8 116.7C549.17 117.49 550.53 119.71 551.9 120.4C553.57 121.24 555.23 122.02 556.9 122.1C559.6 122.23 562.3 122.3 565 122.3C608.43 122.3 651.87 122.3 695.3 122.3"/>
<path class="r" d="M523.1 122.3C527.5 122.3 531.9 122.3 536.3 122.3C537.4 122.3 538.5 118.34 539.6 117.1C540.7 115.86 541.8 114.2 542.9 114.2C544 114.2 545.1 114.93 546.2 115.5C547.3 116.07 548.4 117.18 549.5 118C550.6 118.82 551.7 119.91 552.8 120.4C554.17 121.01 555.53 121.55 556.9 121.7C559.6 122 562.3 122.19 565 122.2C608.43 122.29 651.87 122.3 695.3 122.3"/>
<path class="d" d="M523.1 229.8C527.67 229.8 532.23 229.8 536.8 229.8C537.83 229.8 538.87 225.9 539.9 224.6C541.13 223.04 542.37 220.9 543.6 220.9C544.83 220.9 546.07 222.1 547.3 222.1C548.33 222.1 549.37 220.2 550.4 218.4C551.43 216.6 552.47 210.49 553.5 208.5C554.73 206.13 555.97 203.5 557.2 203.5C558.63 203.5 560.07 207.2 561.5 207.2C562.97 207.2 564.43 202.85 565.9 201C567.33 199.19 568.77 196.1 570.2 196.1C571.23 196.1 572.27 201.7 573.3 201.7C574.93 201.7 576.57 197.47 578.2 196.1C579.43 195.06 580.67 193.6 581.9 193.6C583.37 193.6 584.83 200.4 586.3 200.4C587.73 200.4 589.17 197.4 590.6 196.1C591.83 194.98 593.07 193 594.3 193C595.97 193 597.63 200.4 599.3 200.4C600.93 200.4 602.57 196.35 604.2 194.9C605.03 194.16 605.87 193 606.7 193C608.23 193 609.77 200.3 611.3 200.3C612.7 200.3 614.1 196.76 615.5 195.5C616.57 194.54 617.63 193.1 618.7 193.1C620.47 193.1 622.23 200.3 624 200.3C625.5 200.3 627 196.88 628.5 195.5C629.6 194.49 630.7 192.8 631.8 192.8C632.9 192.8 634 193.96 635.1 195.7C635.73 196.7 636.37 201.63 637 204.8C637.67 208.14 638.33 212.59 639 215.3C639.87 218.83 640.73 222.27 641.6 223.8C642.9 226.09 644.2 227.72 645.5 228.3C647.23 229.08 648.97 229.69 650.7 229.7C665.57 229.79 680.43 229.8 695.3 229.8"/>
<path class="s" d="M523.1 229.8C527.67 229.8 532.23 229.8 536.8 229.8C537.83 229.8 538.87 227.05 539.9 226.5C541.13 225.84 542.37 225.2 543.6 225.2C545.03 225.2 546.47 226 547.9 226C550.17 226 552.43 222.6 554.7 222.6C556.57 222.6 558.43 225.5 560.3 225.5C562.57 225.5 564.83 222.4 567.1 222.4C569.17 222.4 571.23 225.5 573.3 225.5C575.37 225.5 577.43 222.4 579.5 222.4C581.57 222.4 583.63 225.5 585.7 225.5C587.77 225.5 589.83 222.4 591.9 222.4C593.93 222.4 595.97 225.5 598 225.5C600.07 225.5 602.13 222.4 604.2 222.4C606.2 222.4 608.2 225.6 610.2 225.6C612.4 225.6 614.6 222.4 616.8 222.4C618.73 222.4 620.67 225.6 622.6 225.6C624.8 225.6 627 222.2 629.2 222.2C631.6 222.2 634 225.26 636.4 226.4C638.57 227.42 640.73 228.63 642.9 229C645.07 229.37 647.23 229.69 649.4 229.7C664.7 229.79 680 229.8 695.3 229.8"/>
<path class="r" d="M523.1 229.8C527.67 229.8 532.23 229.8 536.8 229.8C537.87 229.8 538.93 228.36 540 227.8C541.2 227.17 542.4 226.2 543.6 226.2C545.03 226.2 546.47 228 547.9 228C550.17 228 552.43 222 554.7 222C556.57 222 558.43 227 560.3 227C562.57 227 564.83 221.5 567.1 221.5C569.17 221.5 571.23 226.5 573.3 226.5C575.37 226.5 577.43 221.3 579.5 221.3C581.57 221.3 583.63 226.5 585.7 226.5C587.77 226.5 589.83 221.3 591.9 221.3C593.93 221.3 595.97 226.5 598 226.5C600.07 226.5 602.13 221.3 604.2 221.3C606.2 221.3 608.2 226.5 610.2 226.5C612.4 226.5 614.6 221.3 616.8 221.3C618.73 221.3 620.67 226.5 622.6 226.5C624.8 226.5 627 221 629.2 221C631.6 221 634 225.15 636.4 226.4C638.57 227.52 640.73 228.63 642.9 229C645.07 229.37 647.23 229.69 649.4 229.7C664.7 229.79 680 229.8 695.3 229.8"/>
<path class="d" d="M523.1 335.8C527.67 335.8 532.23 335.8 536.8 335.8C538.23 335.8 539.67 332.09 541.1 329.3C542.33 326.9 543.57 322.7 544.8 319.4C546.03 316.1 547.27 312.8 548.5 309.5C549.73 306.2 550.97 302.1 552.2 299.6C553.87 296.22 555.53 293.54 557.2 291.6C559.27 289.19 561.33 287.2 563.4 286C565.87 284.57 568.33 283.49 570.8 282.9C574.1 282.11 577.4 281.52 580.7 281.3C584.83 281.03 588.97 280.8 593.1 280.8C600.4 280.8 607.7 280.8 615 280.8C621.9 280.8 628.8 280.81 635.7 280.9C636.57 280.91 637.43 282.41 638.3 284.2C638.97 285.58 639.63 289.94 640.3 294C640.8 297.04 641.3 302.02 641.8 305.7C642.37 309.87 642.93 314.12 643.5 317.5C644.17 321.48 644.83 326.05 645.5 327.9C646.6 330.95 647.7 333.21 648.8 333.8C650.77 334.85 652.73 335.46 654.7 335.5C668.23 335.76 681.77 335.8 695.3 335.8"/>
<path class="s" d="M523.1 335.8C527.87 335.8 532.63 335.8 537.4 335.8C539.03 335.8 540.67 333.52 542.3 331.8C543.97 330.05 545.63 327 547.3 324.4C548.93 321.85 550.57 318.68 552.2 316.3C554.27 313.29 556.33 310.51 558.4 308.3C560.9 305.62 563.4 303.28 565.9 301.5C568.77 299.46 571.63 297.81 574.5 296.5C577.8 294.99 581.1 293.79 584.4 292.8C587.7 291.81 591 290.95 594.3 290.3C597.6 289.65 600.9 289.14 604.2 288.7C607.8 288.22 611.4 287.83 615 287.5C621.23 286.93 627.47 286.1 633.7 286.1C635.47 286.1 637.23 287.32 639 288.7C640.3 289.72 641.6 292.12 642.9 295.3C643.77 297.42 644.63 302.42 645.5 305.7C646.6 309.86 647.7 314.38 648.8 317.5C650.3 321.76 651.8 325.75 653.3 327.9C655.5 331.05 657.7 333.86 659.9 334.5C662.5 335.26 665.1 335.8 667.7 335.8C676.9 335.8 686.1 335.8 695.3 335.8"/>
<path class="r" d="M523.1 335.8C527.87 335.8 532.63 335.8 537.4 335.8C539.47 335.8 541.53 332.49 543.6 330.6C545.67 328.71 547.73 326.83 549.8 324.4C551.83 322.01 553.87 318.34 555.9 315.7C557.97 313.01 560.03 310.33 562.1 308.3C564.6 305.84 567.1 303.66 569.6 302.1C572.07 300.56 574.53 299.11 577 298.4C579.47 297.69 581.93 297.19 584.4 296.9C587.7 296.51 591 296.23 594.3 296.1C601.2 295.83 608.1 295.78 615 295.6C621.7 295.42 628.4 295 635.1 295C636.17 295 637.23 296.16 638.3 297.9C638.97 298.99 639.63 304.52 640.3 308.3C640.93 311.89 641.57 317.03 642.2 320.1C643.1 324.46 644 329.09 644.9 330.6C646.4 333.11 647.9 334.84 649.4 335.1C652.03 335.56 654.67 335.8 657.3 335.8C669.97 335.8 682.63 335.8 695.3 335.8"/>
<path class="d" d="M523.1 440.3C527.67 440.3 532.23 440.3 536.8 440.3C538.03 440.3 539.27 437.56 540.5 435C541.53 432.85 542.57 427.5 543.6 423.8C544.63 420.1 545.67 415.95 546.7 412.8C547.93 409.04 549.17 405.57 550.4 403C551.83 400.02 553.27 397.51 554.7 395.7C556.77 393.08 558.83 391.01 560.9 389.6C563.37 387.92 565.83 386.64 568.3 385.8C571.2 384.81 574.1 384.08 577 383.6C581.13 382.91 585.27 382.38 589.4 382.1C597.93 381.53 606.47 381.17 615 381C622.57 380.85 630.13 380.7 637.7 380.7C638.8 380.7 639.9 381.34 641 382C642.07 382.64 643.13 383.93 644.2 385.9C645.07 387.5 645.93 391.24 646.8 395.1C647.47 398.07 648.13 402.78 648.8 406.8C649.43 410.62 650.07 415.27 650.7 418.6C651.57 423.16 652.43 427.85 653.3 430.3C654.63 434.06 655.97 437.35 657.3 438.2C659.03 439.3 660.77 440.07 662.5 440.1C673.43 440.27 684.37 440.3 695.3 440.3"/>
<path class="s" d="M523.1 440.3C527.67 440.3 532.23 440.3 536.8 440.3C538.03 440.3 539.27 437.95 540.5 435.6C541.53 433.63 542.57 428.12 543.6 424.4C544.63 420.68 545.67 416.48 546.7 413.3C547.93 409.51 549.17 406 550.4 403.4C551.83 400.38 553.27 397.84 554.7 396C556.77 393.34 558.83 391.22 560.9 389.8C563.37 388.11 565.83 386.84 568.3 386C571.2 385.01 574.1 384.28 577 383.8C581.13 383.11 585.27 382.6 589.4 382.3C594.6 381.92 599.8 381.73 605 381.5C608.33 381.35 611.67 381.19 615 381.1C622.57 380.91 630.13 380.7 637.7 380.7C639.43 380.7 641.17 381.57 642.9 382.6C644.2 383.37 645.5 385.22 646.8 387.9C647.67 389.69 648.53 393.97 649.4 397.7C650.27 401.43 651.13 407.06 652 410.7C653.1 415.32 654.2 419.65 655.3 422.5C656.83 426.47 658.37 429.39 659.9 431.6C662.07 434.73 664.23 438.16 666.4 438.8C669.03 439.57 671.67 440.05 674.3 440.1C681.3 440.25 688.3 440.3 695.3 440.3"/>
<path class="r" d="M523.1 440.3C527.67 440.3 532.23 440.3 536.8 440.3C538.23 440.3 539.67 438.46 541.1 436.8C542.53 435.14 543.97 431.32 545.4 428.1C546.87 424.81 548.33 420.5 549.8 417C551.43 413.1 553.07 408.76 554.7 405.9C556.77 402.29 558.83 399.25 560.9 397.2C563.37 394.75 565.83 392.73 568.3 391.6C571.2 390.28 574.1 389.32 577 388.8C581.13 388.05 585.27 387.4 589.4 387.3C597.93 387.1 606.47 387 615 387C623.87 387 632.73 387 641.6 387C642.9 387 644.2 388.05 645.5 389.8C646.17 390.7 646.83 395.48 647.5 399C648.13 402.34 648.77 406.88 649.4 410.7C650.07 414.72 650.73 419.06 651.4 422.5C652.27 426.97 653.13 432.64 654 434.3C655.53 437.24 657.07 439.22 658.6 439.5C660.77 439.89 662.93 440.07 665.1 440.1C675.17 440.25 685.23 440.3 695.3 440.3"/>
<path class="s" d="M35.3 461.8L207.5 461.8"/>
<path class="s" d="M279.5 494.4L451.7 494.4"/>
<path class="s" d="M523.1 527.2L695.3 527.2"/>
<path class="ax" d="M36.6 626.4L36.6 733"/>
<path class="ax" d="M36.6 733L209.6 733"/>
<path class="gax" d="M209.6 626.4L209.6 733"/>
<path class="ax" d="M36.6 626.4L38.6 626.4"/>
<path class="gax" d="M209.6 626.4L207.6 626.4"/>
<path class="ax" d="M36.6 661.93L38.6 661.93"/>
<path class="gax" d="M209.6 661.93L207.6 661.93"/>
<path class="ax" d="M36.6 697.47L38.6 697.47"/>
<path class="gax" d="M209.6 697.47L207.6 697.47"/>
<path class="ax" d="M36.6 733L38.6 733"/>
<path class="gax" d="M209.6 733L207.6 733"/>
<path class="ax" d="M36.6 733L36.6 731"/>
<path class="ax" d="M86.03 733L86.03 731"/>
<path class="ax" d="M135.46 733L135.46 731"/>
<path class="ax" d="M184.89 733L184.89 731"/>
<path class="ax" d="M209.6 733L209.6 731"/>
<text x="22" y="631.75" class="tk" text-anchor="middle">0.3</text>
<text x="22" y="666.95" class="tk" text-anchor="middle">0.2</text>
<text x="22" y="702.35" class="tk" text-anchor="middle">0.1</text>
<text x="24.9" y="737.65" class="tk" text-anchor="middle">0</text>
<text x="218.3" y="631.3" class="tk gt rt" text-anchor="middle">6</text>
<text x="218.3" y="666.83" class="tk gt rt" text-anchor="middle">4</text>
<text x="218.3" y="702.37" class="tk gt rt" text-anchor="middle">2</text>
<text x="218.3" y="737.9" class="tk gt rt" text-anchor="middle">0</text>
<text x="4.2" y="683.9" class="lb" text-anchor="start">A</text>
<text transform="translate(235.8 682) rotate(-90)" class="lb" text-anchor="middle">Force (N)</text>
<text x="37.1" y="749.45" class="tk" text-anchor="middle">0</text>
<text x="85.8" y="749.45" class="tk" text-anchor="middle">0.4</text>
<text x="133.7" y="749.45" class="tk" text-anchor="middle">0.8</text>
<text x="183.6" y="749.45" class="tk" text-anchor="middle">1.2</text>
<text x="210.1" y="749.45" class="tk" text-anchor="middle">1.4</text>
<text x="123" y="763.6" class="lb" text-anchor="middle">Time (s)</text>
<path class="ax" d="M280.4 626.2L280.4 733"/>
<path class="ax" d="M280.4 733L452.7 733"/>
<path class="gax" d="M452.7 626.2L452.7 733"/>
<path class="ax" d="M280.4 626.2L282.4 626.2"/>
<path class="gax" d="M452.7 626.2L450.7 626.2"/>
<path class="ax" d="M280.4 661.8L282.4 661.8"/>
<path class="gax" d="M452.7 661.8L450.7 661.8"/>
<path class="ax" d="M280.4 697.4L282.4 697.4"/>
<path class="gax" d="M452.7 697.4L450.7 697.4"/>
<path class="ax" d="M280.4 733L282.4 733"/>
<path class="gax" d="M452.7 733L450.7 733"/>
<path class="ax" d="M280.4 733L280.4 731"/>
<path class="ax" d="M329.63 733L329.63 731"/>
<path class="ax" d="M378.86 733L378.86 731"/>
<path class="ax" d="M428.09 733L428.09 731"/>
<path class="ax" d="M452.7 733L452.7 731"/>
<text x="265.8" y="631.75" class="tk" text-anchor="middle">0.3</text>
<text x="265.8" y="666.95" class="tk" text-anchor="middle">0.2</text>
<text x="265.8" y="702.35" class="tk" text-anchor="middle">0.1</text>
<text x="268.7" y="737.65" class="tk" text-anchor="middle">0</text>
<text x="462" y="631.1" class="tk gt rt" text-anchor="middle">6</text>
<text x="462" y="666.7" class="tk gt rt" text-anchor="middle">4</text>
<text x="462" y="702.3" class="tk gt rt" text-anchor="middle">2</text>
<text x="462" y="737.9" class="tk gt rt" text-anchor="middle">0</text>
<text x="248.8" y="682.8" class="lb" text-anchor="start">A</text>
<text transform="translate(480.2 682) rotate(-90)" class="lb" text-anchor="middle">Force (N)</text>
<text x="281.4" y="749.45" class="tk" text-anchor="middle">0</text>
<text x="329.6" y="749.45" class="tk" text-anchor="middle">0.4</text>
<text x="379.4" y="749.45" class="tk" text-anchor="middle">0.8</text>
<text x="428.6" y="749.45" class="tk" text-anchor="middle">1.2</text>
<text x="453.4" y="749.45" class="tk" text-anchor="middle">1.4</text>
<text x="366.2" y="763.6" class="lb" text-anchor="middle">Time (s)</text>
<path class="ax" d="M524.5 626.2L524.5 733"/>
<path class="ax" d="M524.5 733L697 733"/>
<path class="gax" d="M697 626.2L697 733"/>
<path class="ax" d="M524.5 626.2L526.5 626.2"/>
<path class="gax" d="M697 626.2L695 626.2"/>
<path class="ax" d="M524.5 661.8L526.5 661.8"/>
<path class="gax" d="M697 661.8L695 661.8"/>
<path class="ax" d="M524.5 697.4L526.5 697.4"/>
<path class="gax" d="M697 697.4L695 697.4"/>
<path class="ax" d="M524.5 733L526.5 733"/>
<path class="gax" d="M697 733L695 733"/>
<path class="ax" d="M524.5 733L524.5 731"/>
<path class="ax" d="M573.79 733L573.79 731"/>
<path class="ax" d="M623.07 733L623.07 731"/>
<path class="ax" d="M672.36 733L672.36 731"/>
<path class="ax" d="M697 733L697 731"/>
<text x="510.9" y="631.75" class="tk" text-anchor="middle">0.3</text>
<text x="510.9" y="666.95" class="tk" text-anchor="middle">0.2</text>
<text x="510.2" y="704.55" class="tk" text-anchor="middle">0.1</text>
<text x="512.9" y="740.05" class="tk" text-anchor="middle">0</text>
<text x="705.8" y="631.1" class="tk gt rt" text-anchor="middle">6</text>
<text x="705.8" y="666.7" class="tk gt rt" text-anchor="middle">4</text>
<text x="705.8" y="702.3" class="tk gt rt" text-anchor="middle">2</text>
<text x="705.8" y="737.9" class="tk gt rt" text-anchor="middle">0</text>
<text x="492.5" y="685.5" class="lb" text-anchor="start">A</text>
<text transform="translate(723 682) rotate(-90)" class="lb" text-anchor="middle">Force (N)</text>
<text x="524.5" y="749.45" class="tk" text-anchor="middle">0</text>
<text x="574" y="749.45" class="tk" text-anchor="middle">0.4</text>
<text x="623" y="749.45" class="tk" text-anchor="middle">0.8</text>
<text x="672.3" y="749.45" class="tk" text-anchor="middle">1.2</text>
<text x="697" y="749.45" class="tk" text-anchor="middle">1.4</text>
<text x="610.1" y="763.6" class="lb" text-anchor="middle">Time (s)</text>
<path class="gl" d="M47.5 733C48.43 733 49.37 733 50.3 733C50.87 733 51.43 722.38 52 716C52.67 708.49 53.33 698.32 54 690C54.67 681.68 55.33 671.89 56 666C56.67 660.11 57.33 654.23 58 652C58.6 649.99 59.2 648 59.8 648C60.53 648 61.27 648.75 62 649.5C62.83 650.36 63.67 652.83 64.5 655C65.33 657.17 66.17 660.25 67 663C67.9 665.97 68.8 669.41 69.7 672.2C70.73 675.41 71.77 678.12 72.8 681C73.83 683.88 74.87 686.85 75.9 689.5C76.77 691.73 77.63 693.65 78.5 695.8C79.3 697.79 80.1 699.64 80.9 701.9C81.8 704.44 82.7 707.79 83.6 710.5C84.53 713.31 85.47 716.19 86.4 718.5C87.37 720.89 88.33 723.21 89.3 724.8C90.37 726.55 91.43 728.06 92.5 729C93.83 730.17 95.17 731.18 96.5 731.6C98.33 732.18 100.17 732.58 102 732.7C104.67 732.88 107.33 733 110 733"/>
<path class="ml" d="M36.6 732.3C41 732.3 45.4 732.3 49.8 732.3C50.37 732.3 50.93 719.14 51.5 712C52.1 704.44 52.7 695.74 53.3 688C53.83 681.12 54.37 672.73 54.9 668C55.43 663.27 55.97 658.84 56.5 657C57.17 654.7 57.83 652.5 58.5 652.5C59.17 652.5 59.83 652.72 60.5 653C61.33 653.35 62.17 655.3 63 657C63.83 658.7 64.67 661.24 65.5 664C66.17 666.21 66.83 669.1 67.5 672C68.33 675.62 69.17 681.12 70 684C71.17 688.03 72.33 690.19 73.5 693.2C75.13 697.42 76.77 701.65 78.4 705.6C79.63 708.58 80.87 711.4 82.1 714.2C83.33 717 84.57 720.27 85.8 722.4C86.7 723.96 87.6 725.19 88.5 726.3C89.27 727.25 90.03 728.15 90.8 728.8C91.87 729.71 92.93 730.52 94 731C95 731.45 96 731.85 97 732C99.67 732.41 102.33 732.69 105 732.7C139.87 732.79 174.73 732.8 209.6 732.8"/>
<path class="eb" d="M53.8 680.21V687.34M54.02 679.95V684.39M54.24 676.81V682.06M54.46 672.27V682.24M54.68 669.87V675.78M54.9 667.06V677.7M55.12 667.01V675.77M55.34 659.46V681.04M55.56 652.45V672.34M55.78 662.44V669.81M56 659.68V669.33M56.22 653.37V668.23M56.44 649.76V665.67M56.66 646.94V671.78M56.88 652.67V663.01M57.1 649.51V664.37M57.32 654.89V661.23M57.54 651.72V664.31M57.76 653.38V664.91M57.98 652.08V662.22M58.2 652.9V661.52M58.42 652.94V663.23M58.64 647.97V668.65M58.86 645.55V661.5M59.08 650.84V660.48M59.3 650.07V660.47M59.52 645.52V669.21M59.74 646.58V663.59M59.96 649.28V661.78M60.18 644.39V668.91M60.4 650.89V660.93M60.62 650.02V662.78M60.84 646.22V662.38M61.06 650.8V665.73M61.28 649.06V672M61.5 653.89V669.65M61.72 645.54V664.24M61.94 652.61V664.06M62.16 654.49V664.05M62.38 647.11V666.22M62.6 658.36V662M62.82 653.56V666.03M63.04 650.94V665.8M63.26 655.64V669.56M63.48 658.11V671.98M63.7 655.95V667.13M63.92 650.78V673.69M64.14 661.35V666.49M64.36 662.2V667.06M64.58 655.76V669.58M64.8 660.09V669.86M65.02 662.78V672.49M65.24 661.95V674.21M65.46 660.6V677.63M65.68 657.88V673.92M65.9 667.44V672.8M66.12 661.71V676.75M66.34 659.31V680.7M66.56 662.59V680.81M66.78 669.88V677.55M67 668.05V684.05M67.22 672.94V677.95M67.44 672.27V678.86M67.66 671.66V680.47M67.88 670.51V685.79M68.1 675.44V683.77M68.32 672.59V687.44"/>
<path class="eb" d="M68.5 676.07V678.74M68.85 677.24V680.21M69.2 679.19V681.57M69.55 680.69V683.62M69.9 682.52V684.4M70.25 681.61V687.2M70.6 684.47V688.43M70.95 686.02V687.5M71.3 686.66V688.65M71.65 687.98V689.63M72 688.35V691.59M72.35 688.61V692M72.7 688.65V692.82M73.05 688.83V694.29M73.4 690.77V695.7M73.75 692.27V695.99M74.1 692V696.72M74.45 694.78V697M74.8 695.69V697.78M75.15 696V698.88M75.5 695.7V701.4M75.85 698.32V700.45M76.2 699.3V702.42M76.55 699.31V702.43M76.9 700.7V703.7M77.25 700.77V703.95M77.6 701.8V706.25M77.95 703.47V705.29M78.3 703.7V706.9M78.65 703.37V707.38M79 706.25V708.84M79.35 706.35V709.82M79.7 706.25V710.1M80.05 706.22V711.13M80.4 707.14V713.62M80.75 709.75V713.82M81.1 710.23V713.45M81.45 710.3V715.46M81.8 710.82V715.8M82.15 713.02V715.49M82.5 712.83V716.55M82.85 715.21V716.88M83.2 715.81V717.46M83.55 716.89V718.56M83.9 717.44V719.66M84.25 716.66V722.09M84.6 719.34V721.09M84.95 719.18V721.6M85.3 718.83V724.46M85.65 721.48V723.22M86 722.2V723.61M86.35 722.21V724.44M86.7 723.03V724.94M87.05 722.68V725.52M87.4 723.24V727.16M87.75 722.77V727.26M88.1 724.22V727.48M88.45 725.22V727.48M88.8 724.59V728.87M89.15 724.72V730.53M89.5 726.03V729.35M89.85 725.57V731.28M90.2 726.16V729.11M90.55 727.3V729.11M90.9 727.21V730.38M91.25 726.89V730.89M91.6 726.29V732.1M91.95 728.42V730.66"/>
<path class="eb2" d="M60.5 631.8L60.5 650"/>
<path class="eb2" d="M67.9 652L67.9 681"/>
<path class="eb2" d="M54.3 657L54.3 676"/>
<path class="gl" d="M291.5 733C292.27 733 293.03 733 293.8 733C294.4 733 295 721.99 295.6 716C296.17 710.34 296.73 704.02 297.3 698C297.8 692.69 298.3 686.13 298.8 682C299.4 677.04 300 671.93 300.6 670C301.23 667.96 301.87 666 302.5 666C302.93 666 303.37 666.22 303.8 666.5C304.37 666.87 304.93 668.94 305.5 671C306.07 673.06 306.63 678.08 307.2 680.8C307.7 683.2 308.2 684.85 308.7 687C309.13 688.86 309.57 691.27 310 692.8C310.67 695.16 311.33 696.71 312 698.5C312.7 700.37 313.4 701.94 314.1 703.8C315.07 706.37 316.03 709.35 317 712C318 714.75 319 717.61 320 720C321 722.39 322 724.85 323 726.5C324 728.15 325 729.76 326 730.5C327.33 731.49 328.67 732.3 330 732.5C332 732.8 334 733 336 733"/>
<path class="mlE" d="M280.4 733C284.67 733 288.93 733 293.2 733C293.63 733 294.07 724.33 294.5 720C295 715 295.5 710.9 296 705C296.4 700.28 296.8 692.68 297.2 688C297.57 683.71 297.93 679.02 298.3 677C298.8 674.25 299.3 672.29 299.8 671.5C300.3 670.71 300.8 670 301.3 670C301.8 670 302.3 671.09 302.8 672C303.37 673.03 303.93 675.06 304.5 677C305.07 678.94 305.63 681.47 306.2 684C306.8 686.68 307.4 690.3 308 692.8C308.9 696.54 309.8 699.32 310.7 702.4C311.6 705.48 312.5 708.69 313.4 711.3C314.57 714.69 315.73 717.81 316.9 720.3C318.03 722.72 319.17 724.89 320.3 726.5C321.7 728.48 323.1 730.49 324.5 731.3C325.87 732.09 327.23 732.86 328.6 732.9C330.73 732.97 332.87 733 335 733"/>
<path class="eb" d="M297.2 681.35V697.35M297.5 678.23V688.19M297.8 677.88V685.93M298.1 673.32V681.09M298.4 667.74V680.36M298.7 672.6V679.11M299 670.57V675.72M299.3 664.6V681.23M299.6 670.3V674.89M299.9 668V673.81M300.2 664.64V675.35M300.5 668.9V673.06M300.8 665.28V674.12M301.1 665.64V675.55M301.4 666.32V674.78M301.7 665.18V673.4M302 665.55V676.83M302.3 666.98V673.57M302.6 668.75V677.61M302.9 666.98V675.78M303.2 667.39V677.92M303.5 667.58V679.9M303.8 671.91V679.75M304.1 671.85V679.91"/>
<path class="eb" d="M304.2 674.85V676.55M304.7 676.03V679.6M305.2 678.12V680.86M305.7 681.33V682.74M306.2 683.28V685.51M306.7 685.6V687.11M307.2 687.55V690.45M307.7 690.78V692.13M308.2 693V694.25M308.7 692.98V696.75M309.2 696.93V698.02M309.7 698.24V700.68M310.2 700.16V701.33M310.7 701.05V704.72M311.2 701.79V704.94M311.7 704.16V706.85M312.2 705.89V709.52M312.7 708.55V709.83M313.2 710.2V711.71M313.7 710.41V713.59M314.2 711.82V715.49M314.7 712.71V715.95M315.2 715.73V717.31M315.7 716.68V718.59M316.2 717.99V720.03M316.7 718.75V720.84M317.2 719.1V722.77M317.7 721.05V722.54M318.2 722.36V723.62M318.7 722.36V724.79M319.2 723.78V726.36M319.7 723.96V727.12M320.2 725.55V728.02M320.7 725.49V728.44M321.2 727.35V728.34M321.7 727.26V729.67"/>
<path class="eb3" d="M301.3 652.9V681.5"/>
<path class="gl" d="M538.9 733C539.57 731.13 540.23 729.4 540.9 728C541.73 726.25 542.57 724.55 543.4 723.5C544.33 722.32 545.27 720.8 546.2 720.8C547.1 720.8 548 721.75 548.9 722.5C549.9 723.34 550.9 725.21 551.9 726.3C552.87 727.36 553.83 728.33 554.8 729.1C555.83 729.92 556.87 730.68 557.9 731.2C559.07 731.79 560.23 732.41 561.4 732.6C562.73 732.82 564.07 733 565.4 733C567.07 733 568.73 733 570.4 733"/>
<path class="ml2" d="M524.5 733C529.17 733 533.83 733 538.5 733C539.17 733 539.83 729.4 540.5 728C541.33 726.25 542.17 724.55 543 723.5C543.93 722.32 544.87 720.8 545.8 720.8C546.7 720.8 547.6 721.75 548.5 722.5C549.5 723.34 550.5 725.21 551.5 726.3C552.47 727.36 553.43 728.33 554.4 729.1C555.43 729.92 556.47 730.68 557.5 731.2C558.67 731.79 559.83 732.41 561 732.6C562.33 732.82 563.67 733 565 733C566.67 733 568.33 733 570 733"/>
<path class="dot" d="M63 649.5L369.9 649.5"/>
<path class="dot" d="M307 666L367.8 666"/>
<path class="dot" d="M330.3 720.6L544 720.6"/>
<path class="arr" d="M346.8 660L346.8 710"/>
<path d="M346.8 650.3L342.9 660.6L350.7 660.6Z" fill="#000"/>
<path d="M346.8 719.3L343.1 709L350.5 709Z" fill="#000"/>
</svg></body></html>
